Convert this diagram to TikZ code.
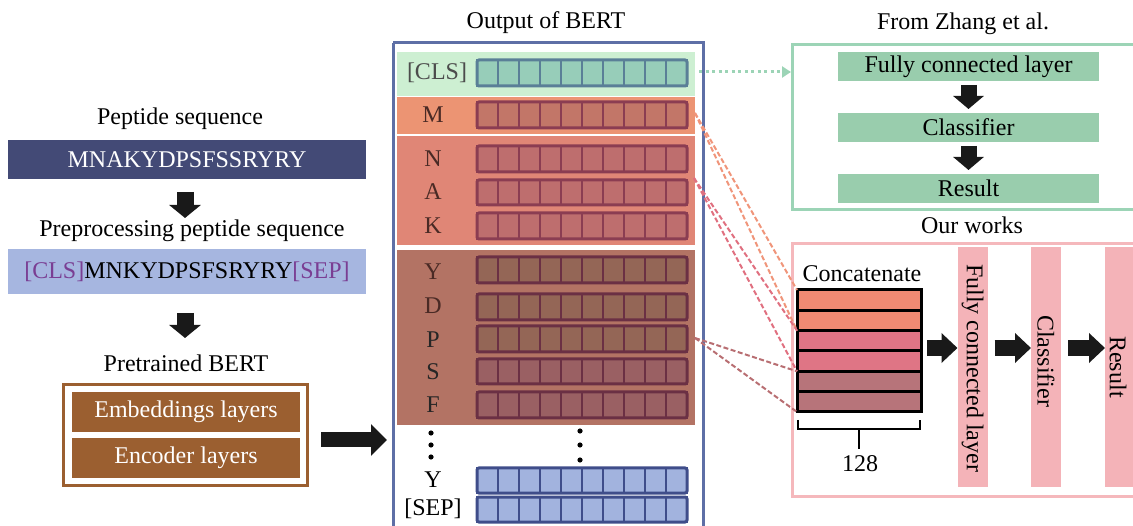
\documentclass[tikz,border=0pt]{standalone}
\usepackage{fontspec}
\setmainfont{Liberation Serif}
\usetikzlibrary{arrows.meta,calc}
\definecolor{dkblue}{HTML}{434A76}
\definecolor{ltblue}{HTML}{A6B6E0}
\definecolor{purp}{HTML}{7A3E93}
\definecolor{brn}{HTML}{9B5F30}
\definecolor{outblue}{HTML}{5E6FA6}
\definecolor{clsreg}{HTML}{CDEFD2}
\definecolor{clsfill}{HTML}{97CDB9}
\definecolor{clsbord}{HTML}{5A7F97}
\definecolor{mreg}{HTML}{EC9473}
\definecolor{mfill}{HTML}{C27668}
\definecolor{redbord}{HTML}{8B3D52}
\definecolor{nakreg}{HTML}{E08676}
\definecolor{nakfill}{HTML}{BE6E6E}
\definecolor{ydreg}{HTML}{B37364}
\definecolor{ydfill}{HTML}{946656}
\definecolor{sffill}{HTML}{9A6063}
\definecolor{ydbord}{HTML}{6B3044}
\definecolor{bvfill}{HTML}{A2B3DE}
\definecolor{bvbord}{HTML}{3F4D8A}
\definecolor{grnbord}{HTML}{9CD4B6}
\definecolor{grnfill}{HTML}{99CDAD}
\definecolor{pinkbord}{HTML}{F5B8BC}
\definecolor{pinkfill}{HTML}{F4B3B8}
\definecolor{row1}{HTML}{F08A73}
\definecolor{row2}{HTML}{DF7585}
\definecolor{row3}{HTML}{B7747A}
\definecolor{labc}{HTML}{4A2A25}
\definecolor{dashA}{HTML}{F0957A}
\definecolor{dashB}{HTML}{E07080}
\definecolor{dashC}{HTML}{B86E72}
\newcommand{\myfs}{\fontsize{24}{27}\selectfont}
\newcommand{\vecbar}[5]{%
  \foreach \i in {0,...,9} {
    \draw[fill=#4, draw=#5, line width=2.6pt] ({477+21*\i},#2) rectangle ({477+21*(\i+1)},#3);
  }
  \draw[draw=#5, line width=3pt, rounded corners=2pt] (477,#2) rectangle (687,#3);
  \coordinate (#1) at (687,{(#2+#3)/2});
}
\begin{document}
\begin{tikzpicture}[x=1pt,y=-1pt,
  txt/.style={font=\myfs, inner sep=0pt, text height=16pt, text depth=5pt},
  bar/.style={inner sep=0pt, outer sep=0pt, font=\myfs},
  lab/.style={font=\myfs, inner sep=0pt, text=labc},
  blockdown/.style={line width=17pt, -{Triangle[length=13pt,width=31pt]}, black!90},
  blocksmall/.style={line width=16pt, -{Triangle[length=16pt,width=29pt]}, black!90},
  dashln/.style={line width=2pt, dash pattern=on 5pt off 2.5pt},
  crow/.style={draw=black, line width=3pt, minimum width=124pt, minimum height=20.33pt, inner sep=0pt, outer sep=0pt},
  vbar/.style={fill=pinkfill, inner sep=0pt, outer sep=0pt, minimum width=30pt, minimum height=240pt},
  gbar/.style={fill=grnfill, inner sep=0pt, outer sep=0pt, minimum width=261pt, minimum height=29pt, font=\myfs},
]
\clip (0,0) rectangle (1133,526);
\useasboundingbox (0,0) rectangle (1133,526);

% ---------- left column ----------
\node[txt] (pstitle) at (180,119) {Peptide sequence};
\node[bar, fill=dkblue, text=white, minimum width=358pt, minimum height=39pt] (pseq) at (187,159.5) {MNAKYDPSFSSRYRY};
\coordinate (d1s) at (185,192);
\coordinate (d1e) at (185,218);
\draw[blockdown] (d1s) -- (d1e);
\node[txt] (pptitle) at (192,231) {Preprocessing peptide sequence};
\node[bar, fill=ltblue, minimum width=358pt, minimum height=45pt] (ppseq) at (187,271.5) {\textcolor{purp}{[CLS]}MNKYDPSFSRYRY\textcolor{purp}{[SEP]}};
\coordinate (d2s) at (185,313);
\coordinate (d2e) at (185,338);
\draw[blockdown] (d2s) -- (d2e);
\node[txt] (pbtitle) at (186,366) {Pretrained BERT};
\node[draw=brn, line width=2.8pt, fill=white, minimum width=244pt, minimum height=101pt, inner sep=0pt] (bertbox) at (185.5,435) {};
\node[bar, fill=brn, text=white, minimum width=228pt, minimum height=40pt] (emb) at (186,412) {Embeddings layers};
\node[bar, fill=brn, text=white, minimum width=228pt, minimum height=40pt] (enc) at (186,458) {Encoder layers};
\coordinate (rs) at (321,440);
\coordinate (re) at (387,440);
\draw[line width=15pt, -{Triangle[length=16pt,width=31pt]}, black!90] (rs) -- (re);

% ---------- Output of BERT ----------
\node[txt] (obtitle) at (546,23) {Output of BERT};
\draw[draw=outblue, line width=3pt] (393,43) -- (393,530) (703,530) -- (703,43) -- (393,43);
\node[inner sep=0pt, outer sep=0pt, fill=clsreg, minimum width=298pt, minimum height=44pt] (clsr) at (546,74) {};
\node[inner sep=0pt, outer sep=0pt, fill=mreg, minimum width=298pt, minimum height=37pt] (mr) at (546,115.5) {};
\node[inner sep=0pt, outer sep=0pt, fill=nakreg, minimum width=298pt, minimum height=109pt] (nakr) at (546,190.5) {};
\node[inner sep=0pt, outer sep=0pt, fill=ydreg, minimum width=298pt, minimum height=175pt] (ydr) at (546,337.5) {};

\node[lab, text=black!70] at (437,73) {[CLS]};
\node[lab] at (433,115) {M};
\node[lab] at (433,159) {N};
\node[lab] at (433,192) {A};
\node[lab] at (433,226) {K};
\node[lab] at (433,272) {Y};
\node[lab] at (433,306) {D};
\node[lab, text=black!85] at (433,340) {P};
\node[lab, text=black!85] at (433,372) {S};
\node[lab, text=black!85] at (433,405) {F};
\node[lab, text=black] at (433,480) {Y};
\node[lab, text=black] at (433,509) {[SEP]};

\vecbar{vcls}{60}{86}{clsfill}{clsbord}
\vecbar{vm}{102}{128}{mfill}{redbord}
\vecbar{vn}{146}{172}{nakfill}{redbord}
\vecbar{va}{180}{205}{nakfill}{redbord}
\vecbar{vk}{213}{239}{nakfill}{redbord}
\vecbar{vy}{257}{283}{ydfill}{ydbord}
\vecbar{vd}{294}{320}{ydfill}{ydbord}
\vecbar{vp}{326}{352}{ydfill}{ydbord}
\vecbar{vs}{359}{384}{sffill}{ydbord}
\vecbar{vf}{392}{418}{sffill}{ydbord}
\vecbar{vy2}{468}{493}{bvfill}{bvbord}
\vecbar{vsep}{497}{522}{bvfill}{bvbord}

\foreach \yy in {433,445,457} \fill (431,\yy) circle (2.6pt);
\foreach \yy in {431,445,460} \fill (580,\yy) circle (2.6pt);

% ---------- From Zhang et al. ----------
\node[txt] (zt) at (963,24) {From Zhang et al.};
\node[draw=grnbord, line width=2.6pt, minimum width=360pt, minimum height=165pt, inner sep=0pt, anchor=north west] (zbox) at (791,43) {};
\node[gbar] (zfc) at (968.5,66.5) {Fully connected layer};
\node[gbar] (zcl) at (968.5,127.5) {Classifier};
\node[gbar] (zre) at (968.5,188.5) {Result};
\draw[line width=16pt, -{Triangle[length=13pt,width=30pt]}, black!90] ($(zfc.south)+(0,4)$) -- ($(zcl.north)+(0,-4)$);
\draw[line width=16pt, -{Triangle[length=13pt,width=30pt]}, black!90] ($(zcl.south)+(0,4)$) -- ($(zre.north)+(0,-4)$);
\coordinate (gstart) at (699,72);
\draw[grnbord, line width=3pt, dash pattern=on 3pt off 3.5pt, -{Triangle[length=9pt,width=11pt]}] (gstart) -- (zbox.west |- gstart);

% ---------- Our works ----------
\node[txt] (ot) at (972,228) {Our works};
\node[draw=pinkbord, line width=2.6pt, minimum width=360pt, minimum height=253pt, inner sep=0pt, anchor=north west] (obox) at (791,242) {};
\node[txt] (cct) at (862,276) {Concatenate};
\node[crow, fill=row1] (c1) at (859,{290+20.33*0.5}) {};
\node[crow, fill=row1] (c2) at (859,{290+20.33*1.5}) {};
\node[crow, fill=row2] (c3) at (859,{290+20.33*2.5}) {};
\node[crow, fill=row2] (c4) at (859,{290+20.33*3.5}) {};
\node[crow, fill=row3] (c5) at (859,{290+20.33*4.5}) {};
\node[crow, fill=row3] (c6) at (859,{290+20.33*5.5}) {};
\draw[line width=2.8pt] (798,420) -- (798,429) -- (920,429) -- (920,420);
\draw[line width=2.8pt] (859,429) -- (859,449);
\node[txt] (n128) at (860,466) {128};

\node[vbar] (vfc) at (972.5,367) {};
\node[vbar] (vcl) at (1046,367) {};
\node[vbar] (vre) at (1120,367) {};
\node[font=\myfs, inner sep=0pt, rotate=-90] at (972.5,368) {Fully connected layer};
\node[font=\myfs, inner sep=0pt, rotate=-90] at (1046,361) {Classifier};
\node[font=\myfs, inner sep=0pt, rotate=-90] at (1118,367) {Result};

\draw[blocksmall] (c1.east |- 0,348) ++(6,0) coordinate (ar1s) -- (vfc.west |- ar1s);
\draw[blocksmall] ($(vfc.east |- ar1s)+(7,0)$) -- (vcl.west |- ar1s);
\draw[blocksmall] ($(vcl.east |- ar1s)+(7,0)$) -- (vre.west |- ar1s);

% ---------- dashed connectors ----------
\coordinate (ms) at (695,113);
\coordinate (ns) at (694,178);
\coordinate (ps) at (695,338);
\draw[dashln, dashA] (ms) -- (c1.north west);
\draw[dashln, dashA] (ms) -- (c2.south west);
\draw[dashln, dashB] (ns) -- (c3.north west);
\draw[dashln, dashB] (ns) -- (c4.south west);
\draw[dashln, dashC] (ps) -- (c5.north west);
\draw[dashln, dashC] (ps) -- (c6.south west);
\end{tikzpicture}
\end{document}
